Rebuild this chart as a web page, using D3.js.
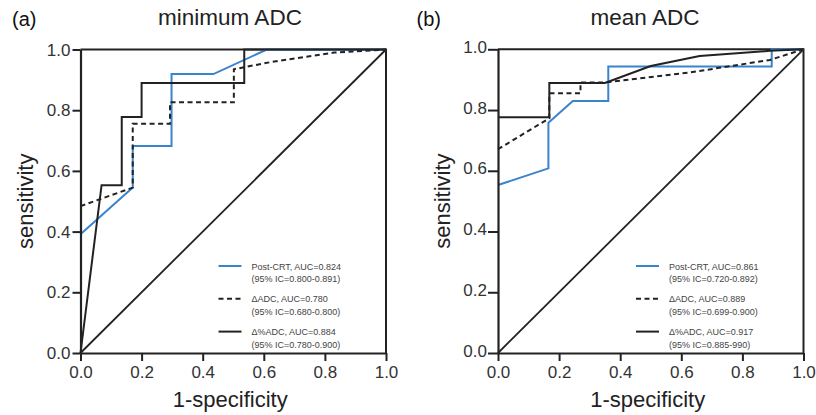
<!DOCTYPE html>
<html>
<head>
<meta charset="utf-8">
<script src="https://cdn.jsdelivr.net/npm/d3@7"></script>
<style>
  html, body { margin: 0; padding: 0; background: #fff; }
  svg { display: block; font-family: "Liberation Sans", Arial, Helvetica, sans-serif; }
</style>
</head>
<body>
<svg id="chart" width="816" height="415"></svg>
<script>
// ---------- DATA ----------
const panelLetters = ["(a)", "(b)"];
const panelTitles = ["minimum ADC", "mean ADC"];
const tickValues = [0, 0.2, 0.4, 0.6, 0.8, 1.0];
const xAxisLabel = "1-specificity";
const yAxisLabel = "sensitivity";

// Panel (a) minimum ADC : x = 1-specificity, y = sensitivity
const minPostCRT_x = [0, 0.171, 0.171, 0.298, 0.298, 0.435, 0.61, 1];
const minPostCRT_y = [0.391, 0.545, 0.682, 0.682, 0.919, 0.919, 1, 1];
const minDeltaADC_x = [0, 0.171, 0.171, 0.293, 0.293, 0.502, 0.502, 0.62, 0.83, 1];
const minDeltaADC_y = [0.484, 0.545, 0.755, 0.755, 0.826, 0.826, 0.935, 0.958, 0.99, 1];
const minPctADC_x = [0, 0.069, 0.135, 0.135, 0.2, 0.2, 0.536, 0.536, 1];
const minPctADC_y = [0, 0.553, 0.553, 0.778, 0.778, 0.89, 0.89, 1, 1];

// Panel (b) mean ADC
const meanPostCRT_x = [0, 0.165, 0.165, 0.245, 0.361, 0.361, 0.896, 0.896, 1];
const meanPostCRT_y = [0.553, 0.608, 0.758, 0.83, 0.83, 0.943, 0.943, 1, 1];
const meanDeltaADC_x = [0, 0.168, 0.168, 0.27, 0.27, 0.35, 0.63, 0.89, 1];
const meanDeltaADC_y = [0.671, 0.773, 0.855, 0.855, 0.891, 0.891, 0.924, 0.965, 1];
const meanPctADC_x = [0, 0.168, 0.168, 0.35, 0.5, 0.66, 0.89, 1];
const meanPctADC_y = [0.776, 0.776, 0.889, 0.889, 0.945, 0.978, 0.995, 1];

const chanceLine_x = [0, 1];
const chanceLine_y = [0, 1];

const minLegend = [
  ["Post-CRT, AUC=0.824", "(95% IC=0.800-0.891)"],
  ["\u0394ADC, AUC=0.780", "(95% IC=0.680-0.800)"],
  ["\u0394%ADC, AUC=0.884", "(95% IC=0.780-0.900)"]
];
const meanLegend = [
  ["Post-CRT, AUC=0.861", "(95% IC=0.720-0.892)"],
  ["\u0394ADC, AUC=0.889", "(95% IC=0.699-0.900)"],
  ["\u0394%ADC, AUC=0.917", "(95% IC=0.885-990)"]
];

// ---------- STYLE ----------
const BLUE = "#3a84cc";
const INK = "#222";
const seriesStyles = [
  { color: BLUE, dash: null },
  { color: INK, dash: "5,3.5" },
  { color: INK, dash: null }
];

const panels = [
  { letter: panelLetters[0], title: panelTitles[0],
    series: [[minPostCRT_x, minPostCRT_y], [minDeltaADC_x, minDeltaADC_y], [minPctADC_x, minPctADC_y]],
    legend: minLegend,
    x0: 80.5, x1: 386, y0: 353, y1: 49.5, yTickLen: 8, yPad: 2, yLabelDy: 0, letterX: 12, titleX: 230, labelYx: 33 },
  { letter: panelLetters[1], title: panelTitles[1],
    series: [[meanPostCRT_x, meanPostCRT_y], [meanDeltaADC_x, meanDeltaADC_y], [meanPctADC_x, meanPctADC_y]],
    legend: meanLegend,
    x0: 498, x1: 803.5, y0: 353, y1: 49.3, yTickLen: 10, yPad: 1, yLabelDy: -2.5, letterX: 416.5, titleX: 645, labelYx: 450 }
];

const svg = d3.select("#chart");

panels.forEach(p => {
  const g = svg.append("g");
  const x = d3.scaleLinear().domain([0, 1]).range([p.x0, p.x1]);
  const y = d3.scaleLinear().domain([0, 1]).range([p.y0, p.y1]);

  // letter and title
  g.append("text").attr("x", p.letterX).attr("y", 26)
    .attr("font-size", 20).attr("fill", "#111").text(p.letter);
  g.append("text").attr("x", p.titleX).attr("y", 25).attr("text-anchor", "middle")
    .attr("font-size", 22.5).attr("fill", "#222").text(p.title);

  // frame (top and right)
  g.append("path")
    .attr("d", `M${x(0)},${y(1)}H${x(1)}V${y(0)}`)
    .attr("fill", "none").attr("stroke", INK).attr("stroke-width", 2);

  // chance line
  const line = d3.line().x(d => x(d[0])).y(d => y(d[1]));
  g.append("path")
    .attr("d", line(d3.zip(chanceLine_x, chanceLine_y)))
    .attr("fill", "none").attr("stroke", INK).attr("stroke-width", 1.8);

  // ROC curves
  p.series.forEach((s, i) => {
    const st = seriesStyles[i];
    g.append("path")
      .attr("d", line(d3.zip(s[0], s[1])))
      .attr("fill", "none")
      .attr("stroke", st.color)
      .attr("stroke-width", 2)
      .attr("stroke-linejoin", "miter")
      .attr("stroke-dasharray", st.dash);
  });

  // axes
  const xAxis = d3.axisBottom(x).tickValues(tickValues).tickFormat(d3.format(".1f"))
    .tickSize(8).tickPadding(5).tickSizeOuter(0);
  const gx = g.append("g").attr("transform", `translate(0,${p.y0})`).call(xAxis);
  gx.select(".domain").attr("stroke", INK).attr("stroke-width", 2.2);
  gx.selectAll(".tick line").attr("stroke", INK).attr("stroke-width", 2);
  gx.selectAll(".tick text").attr("font-size", 17).attr("fill", "#333")
    .attr("font-family", "Liberation Sans, Arial, sans-serif");

  const yAxis = d3.axisLeft(y).tickValues(tickValues).tickFormat(d3.format(".1f"))
    .tickSize(p.yTickLen).tickPadding(p.yPad).tickSizeOuter(0);
  const gy = g.append("g").attr("transform", `translate(${p.x0},0)`).call(yAxis);
  gy.select(".domain").attr("stroke", INK).attr("stroke-width", 2.2);
  gy.selectAll(".tick line").attr("stroke", INK).attr("stroke-width", 2);
  gy.selectAll(".tick text").attr("font-size", 17).attr("fill", "#333")
    .attr("font-family", "Liberation Sans, Arial, sans-serif")
    .attr("dy", null).attr("y", p.yLabelDy).attr("dominant-baseline", "central");

  // axis labels
  g.append("text").attr("x", (p.x0 + p.x1) / 2 - 3).attr("y", 407)
    .attr("text-anchor", "middle").attr("font-size", 22).attr("fill", "#222").text(xAxisLabel);
  g.append("text")
    .attr("transform", `translate(${p.labelYx},${(p.y0 + p.y1) / 2}) rotate(-90)`)
    .attr("text-anchor", "middle").attr("font-size", 22).attr("fill", "#222").text(yAxisLabel);

  // legend
  const lg = g.append("g");
  const lineStartX = p.x0 + 138;
  p.legend.forEach((rows, i) => {
    const ly = 266 + i * 32.8;
    const st = seriesStyles[i];
    lg.append("line").attr("x1", lineStartX).attr("x2", lineStartX + 23)
      .attr("y1", ly).attr("y2", ly)
      .attr("stroke", st.color).attr("stroke-width", 2)
      .attr("stroke-dasharray", st.dash);
    rows.forEach((r, j) => {
      lg.append("text").attr("x", lineStartX + 33).attr("y", ly + 3.5 + j * 12.5)
        .attr("font-size", 9).attr("fill", "#444").text(r);
    });
  });
});
</script>
</body>
</html>
